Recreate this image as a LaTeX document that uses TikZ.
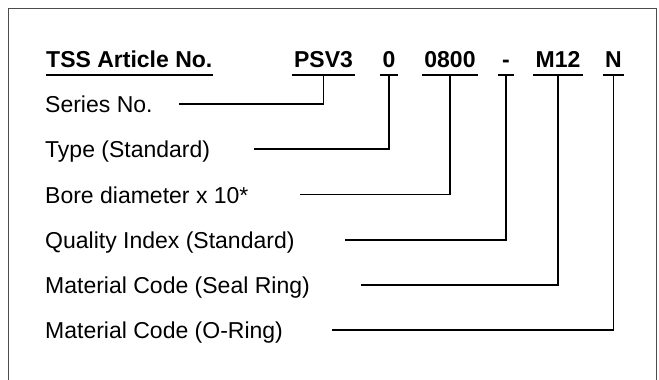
\documentclass[tikz,border=0pt]{standalone}
\usepackage{fontspec}
\setmainfont{Liberation Sans}
\usetikzlibrary{positioning}

\newcommand{\bigtext}{\fontsize{23}{27}\selectfont}
\tikzset{
  code/.style={font=\bigtext\bfseries, anchor=base, text depth=0pt, inner xsep=2pt, inner ysep=7.5pt},
  descr/.style={font=\bigtext, anchor=base west, inner sep=0pt},
  link/.style={line width=1.6pt, black},
}

\begin{document}
\begin{tikzpicture}[x=1pt,y=-1pt]
\useasboundingbox (0,0) rectangle (659,380);
% frame, open at the bottom
\draw[line width=1.5pt, black!70] (8.5,380) -- (8.5,8.5) -- (656.5,8.5) -- (656.5,380);
% article number and its parts
\node[code, anchor=base west, inner xsep=0pt] (title) at (46,67) {TSS Article No.};
\node[code] (psv) at (323.5,67) {PSV3};
\node[code] (typ) at (389,67) {0};
\node[code] (bore) at (450,67) {0800};
\node[code, inner xsep=3.5pt] (qual) at (506,67) {-};
\node[code] (mseal) at (558,67) {M12};
\node[code] (moring) at (613.5,67) {N};
% underline them
\foreach \n in {title,psv,typ,bore,qual,mseal,moring}
  \draw[link] (\n.south west) -- (\n.south east);
% descriptions
\node[descr] (series) at (45,112.5) {Series No.};
\node[descr] (type) at (45,157.5) {Type (Standard)};
\node[descr] (diam) at (45,203) {Bore diameter x 10*};
\node[descr] (index) at (45,248.5) {Quality Index (Standard)};
\node[descr] (seal) at (45,293.5) {Material Code (Seal Ring)};
\node[descr] (oring) at (45,338.5) {Material Code (O-Ring)};
% free ends of the leaders
\coordinate (series end) at (179,104);
\coordinate (type end) at (254,149);
\coordinate (diam end) at (300,194.5);
\coordinate (index end) at (344.5,240);
\coordinate (seal end) at (361,285);
\coordinate (oring end) at (332,330);
% leaders
\draw[link] (psv.south) |- (series end);
\draw[link] (typ.south) |- (type end);
\draw[link] (bore.south) |- (diam end);
\draw[link] (qual.south) |- (index end);
\draw[link] (mseal.south) |- (seal end);
\draw[link] (moring.south) |- (oring end);
\end{tikzpicture}
\end{document}
